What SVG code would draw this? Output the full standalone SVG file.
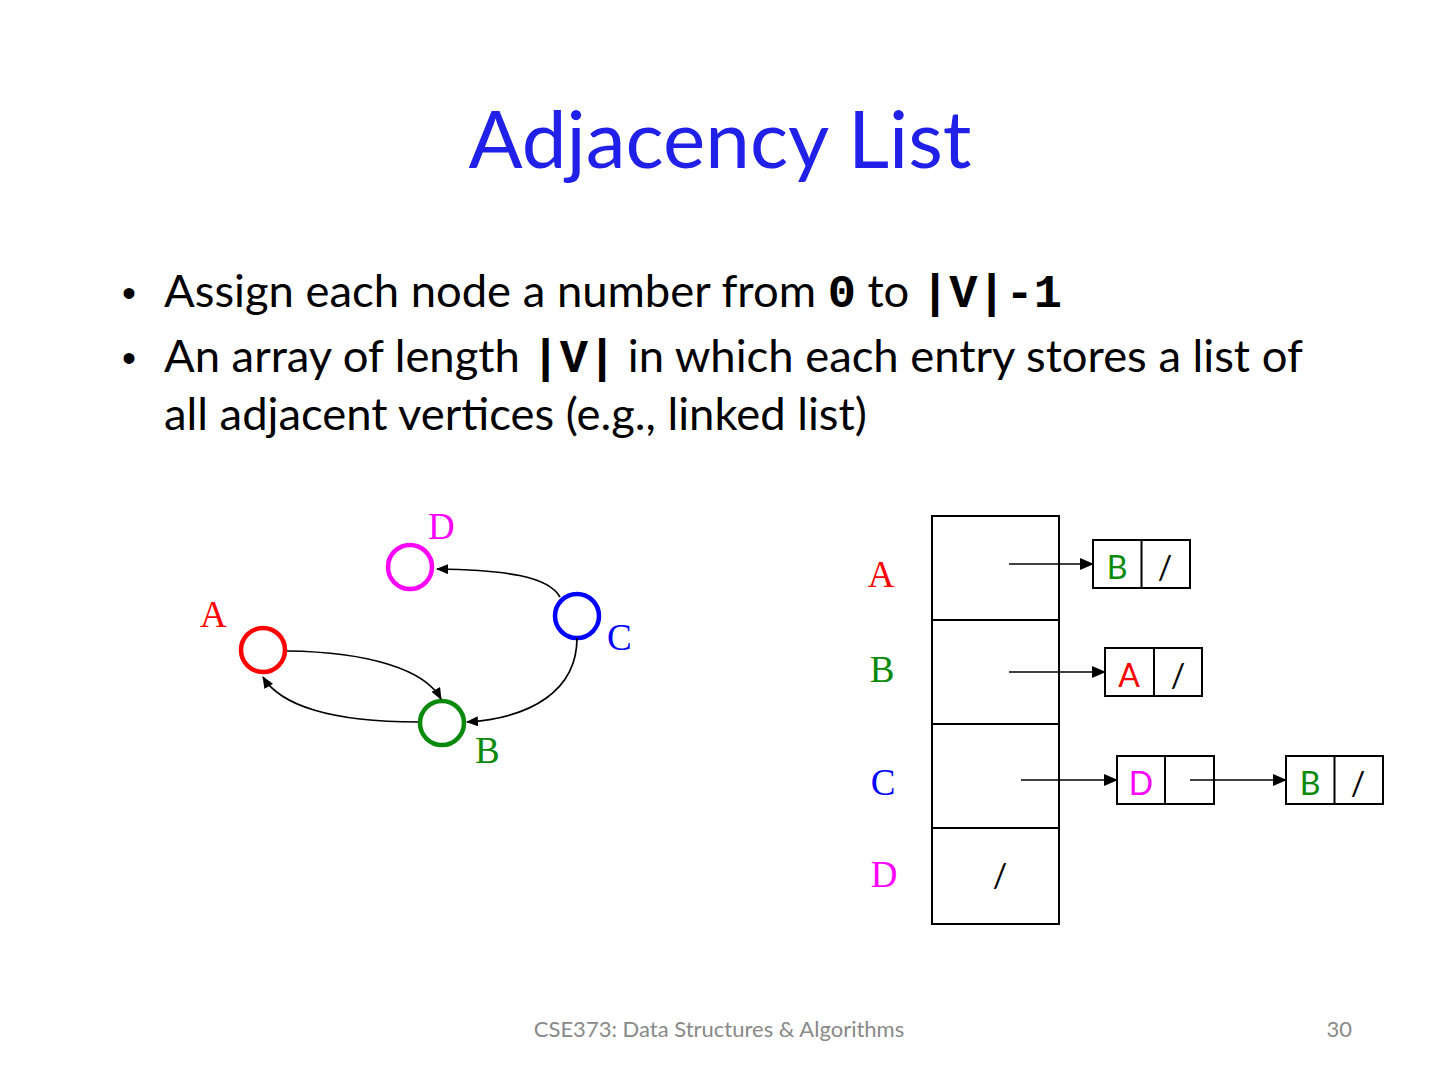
<svg xmlns="http://www.w3.org/2000/svg" width="1440" height="1080" viewBox="0 0 1440 1080">
<defs>
<marker id="ah" markerWidth="12" markerHeight="10" refX="11" refY="5" orient="auto" markerUnits="userSpaceOnUse">
<path d="M0,0 L12,5 L0,10 z" fill="#000"/>
</marker>
<marker id="ah2" markerWidth="14" markerHeight="12" refX="13" refY="6" orient="auto" markerUnits="userSpaceOnUse">
<path d="M0,0 L14,6 L0,12 z" fill="#000"/>
</marker>
<style>
.sans{font-family:Lato,"Liberation Sans",sans-serif}
.mono{font-family:"Liberation Mono",monospace;font-weight:bold}
.serif{font-family:"Liberation Serif",serif;font-size:37px}
.node{fill:none;stroke-width:4.5}
.edge{fill:none;stroke:#000;stroke-width:1.7}
.cell{fill:#fff;stroke:#000;stroke-width:2}
.cl{font-family:Lato,"Liberation Sans",sans-serif;font-size:32px;text-anchor:middle}
.red{fill:#ff0000}.green{fill:#0a8a0a}.blue{fill:#0000ff}.mag{fill:#ff00ff}
</style>
</defs>
<rect width="1440" height="1080" fill="#fff"/>
<text x="720" y="168" class="sans" font-size="80" fill="#2020e8" text-anchor="middle">Adjacency List</text>
<g class="sans" font-size="45.4" fill="#000">
<text x="122" y="307" font-family="Liberation Sans" font-size="40">•</text>
<text x="164" y="307">Assign each node a number from <tspan class="mono" font-size="47">0</tspan> to <tspan class="mono" font-size="47">|V|-1</tspan></text>
<text x="122" y="372" font-family="Liberation Sans" font-size="40">•</text>
<text x="164" y="372">An array of length <tspan class="mono" font-size="47">|V|</tspan> in which each entry stores a list of</text>
<text x="164" y="430">all adjacent vertices (e.g., linked list)</text>
</g>
<g id="node-D"><circle class="node" cx="410" cy="567" r="22" stroke="#ff00ff"/><text class="serif mag" x="428" y="539">D</text></g>
<g id="node-C"><circle class="node" cx="577" cy="616" r="22" stroke="#0000ff"/><text class="serif blue" x="607" y="650">C</text></g>
<g id="node-A"><circle class="node" cx="263" cy="650" r="22" stroke="#ff0000"/><text class="serif red" x="200" y="627">A</text></g>
<g id="node-B"><circle class="node" cx="442" cy="723" r="22" stroke="#0a8a0a"/><text class="serif green" x="475" y="763">B</text></g>
<g id="array">
<rect class="cell" x="932" y="516" width="127" height="104" fill="none"/>
<rect class="cell" x="932" y="620" width="127" height="104" fill="none"/>
<rect class="cell" x="932" y="724" width="127" height="104" fill="none"/>
<rect class="cell" x="932" y="828" width="127" height="96"/>
<text class="serif red" x="881" y="587" text-anchor="middle">A</text>
<text class="serif green" x="882" y="682" text-anchor="middle">B</text>
<text class="serif blue" x="883" y="795" text-anchor="middle">C</text>
<text class="serif mag" x="884" y="887" text-anchor="middle">D</text>
<text class="cl" x="1000" y="887" fill="#000">/</text>
</g>
<g id="list-A-B">
<rect class="cell" x="1093" y="540" width="97" height="48"/>
<line x1="1141.5" y1="540" x2="1141.5" y2="588" stroke="#000" stroke-width="2"/>
<text class="cl green" x="1117" y="579">B</text>
<text class="cl" x="1165" y="579">/</text>
</g>
<g id="list-B-A">
<rect class="cell" x="1105" y="648" width="97" height="48"/>
<line x1="1154" y1="648" x2="1154" y2="696" stroke="#000" stroke-width="2"/>
<text class="cl red" x="1129" y="687">A</text>
<text class="cl" x="1178" y="687">/</text>
</g>
<g id="list-C-D">
<rect class="cell" x="1117" y="756" width="97" height="48"/>
<line x1="1165" y1="756" x2="1165" y2="804" stroke="#000" stroke-width="2"/>
<text class="cl mag" x="1141" y="795">D</text>
</g>
<g id="list-C-B">
<rect class="cell" x="1286" y="756" width="97" height="48"/>
<line x1="1334.5" y1="756" x2="1334.5" y2="804" stroke="#000" stroke-width="2"/>
<text class="cl green" x="1310" y="795">B</text>
<text class="cl" x="1358" y="795">/</text>
</g>
<g id="connectors">
<path class="edge" d="M560,597 C548,576 505,570 437,569" marker-end="url(#ah)"/>
<path class="edge" d="M577,638 C577,690 532,718 467,722" marker-end="url(#ah)"/>
<path class="edge" d="M287,651 C370,652 425,670 441,699" marker-end="url(#ah)"/>
<path class="edge" d="M418,722 C330,722 280,705 263,677" marker-end="url(#ah)"/>
<line class="edge" x1="1009" y1="564" x2="1093" y2="564" marker-end="url(#ah2)"/>
<line class="edge" x1="1009" y1="672" x2="1105" y2="672" marker-end="url(#ah2)"/>
<line class="edge" x1="1021" y1="780" x2="1117" y2="780" marker-end="url(#ah2)"/>
<line class="edge" x1="1190" y1="780" x2="1286" y2="780" marker-end="url(#ah2)"/>
</g>
<text x="719" y="1037" class="sans" font-size="22" fill="#898989" text-anchor="middle">CSE373: Data Structures &amp; Algorithms</text>
<text x="1352" y="1037" class="sans" font-size="22" fill="#898989" text-anchor="end">30</text>
</svg>
